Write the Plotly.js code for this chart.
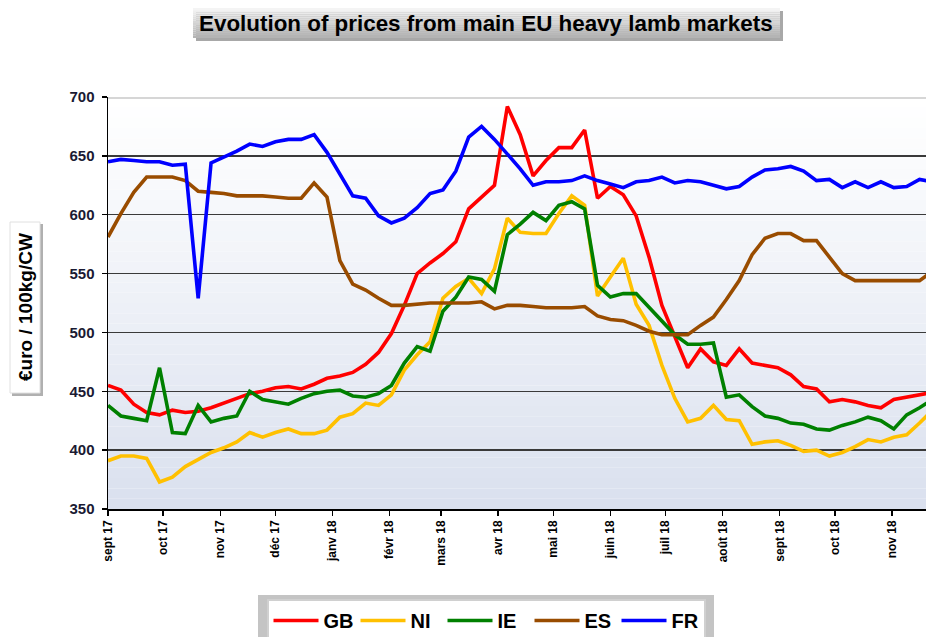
<!DOCTYPE html>
<html><head><meta charset="utf-8">
<script src="https://cdn.plot.ly/plotly-3.0.1.min.js"></script>
<style>html,body{margin:0;padding:0;background:#fff;} #chart{width:926px;height:637px;}</style>
</head><body><div id="chart"></div>
<script>
// ---- DATA (weekly prices, €/100kg CW) ----
const weeks = ['2017-09-01','2017-09-08','2017-09-15','2017-09-22','2017-09-29',
 '2017-10-06','2017-10-13','2017-10-20','2017-10-27',
 '2017-11-03','2017-11-10','2017-11-17','2017-11-24',
 '2017-12-01','2017-12-08','2017-12-15','2017-12-22','2017-12-29',
 '2018-01-05','2018-01-12','2018-01-19','2018-01-26',
 '2018-02-02','2018-02-09','2018-02-16','2018-02-23',
 '2018-03-02','2018-03-09','2018-03-16','2018-03-23','2018-03-30',
 '2018-04-06','2018-04-13','2018-04-20','2018-04-27',
 '2018-05-04','2018-05-11','2018-05-18','2018-05-25',
 '2018-06-01','2018-06-08','2018-06-15','2018-06-22','2018-06-29',
 '2018-07-06','2018-07-13','2018-07-20','2018-07-27',
 '2018-08-03','2018-08-10','2018-08-17','2018-08-24','2018-08-31',
 '2018-09-07','2018-09-14','2018-09-21','2018-09-28',
 '2018-10-05','2018-10-12','2018-10-19','2018-10-26',
 '2018-11-02','2018-11-09','2018-11-16','2018-11-23'];

const GB = [455,451,439,432,430,434,432,433,436,440,444,448,450,453,454,452,456,461,463,466,473,483,
            499,523,550,559,567,577,605,615,625,692,668,633,646,657,657,672,614,624,617,599,564,523,
            497,470,486,475,472,486,474,472,470,464,454,452,441,443,441,438,436,443,445,447,449];
const NI = [391,395,395,393,373,377,386,392,398,402,407,415,411,415,418,414,414,417,428,431,440,438,
            447,468,481,492,529,539,546,533,554,597,585,584,584,601,616,608,531,547,563,524,506,472,
            444,424,427,438,426,425,405,407,408,404,399,400,395,398,403,409,407,411,413,423,434];
const IE = [438,429,427,425,470,415,414,438,424,427,429,450,443,441,439,444,448,450,451,446,445,448,
            455,474,488,484,518,530,547,545,535,583,592,602,595,608,611,605,540,530,533,533,521,509,
            498,490,490,491,445,447,437,429,427,423,422,418,417,421,424,428,425,418,430,436,443];
const ES = [581,601,619,632,632,632,629,620,619,618,616,616,616,615,614,614,627,615,561,541,536,529,
            523,523,524,525,525,525,525,526,520,523,523,522,521,521,521,522,514,511,510,506,501,498,
            498,498,506,513,528,544,566,580,584,584,578,578,564,550,544,544,544,544,544,544,552];
const FR = [645,647,646,645,645,642,643,529,644,649,654,660,658,662,664,664,668,653,635,616,614,599,
            593,597,606,618,621,637,666,675,664,652,639,625,628,628,629,633,629,626,623,628,629,632,
            627,629,628,625,622,624,632,638,639,641,637,629,630,623,628,623,628,623,624,630,628];

const seriesNames  = ['GB','NI','IE','ES','FR'];
const seriesValues = [GB, NI, IE, ES, FR];
const seriesColors = ['#FF0000','#FFC000','#008000','#994C00','#0000FF'];

const monthTicks  = ['2017-09-01','2017-10-01','2017-11-01','2017-12-01','2018-01-01','2018-02-01','2018-03-01',
                     '2018-04-01','2018-05-01','2018-06-01','2018-07-01','2018-08-01','2018-09-01','2018-10-01','2018-11-01'];
const monthLabels = ['sept 17','oct 17','nov 17','déc 17','janv 18','févr 18','mars 18',
                     'avr 18','mai 18','juin 18','juil 18','août 18','sept 18','oct 18','nov 18'];
const yTicks = [350,400,450,500,550,600,650,700];

const chartTitle = 'Evolution of prices from main EU heavy lamb markets';
const yTitle = '€uro / 100kg/CW';

// ---- LAYOUT GEOMETRY ----
const W = 926, H = 637, ML = 108, MR = 0, MT = 97, MB = 128;
const PW = W - ML - MR, PH = H - MT - MB;
const px = x => (x - ML) / PW;
const py = y => (H - MB - y) / PH;
const FONT = 'Liberation Sans, Arial, sans-serif';

const traces = seriesNames.map((n, i) => ({
  type: 'scatter', mode: 'lines', name: n,
  x: weeks, y: seriesValues[i],
  line: {color: seriesColors[i], width: 3.6},
  hoverinfo: 'skip'
}));

const shapes = [];
// plot background gradient (white top -> light blue-grey bottom)
const NS = 40, bgTop = [255,255,255], bgBot = [217,224,238];
for (let i = 0; i < NS; i++) {
  const f = Math.pow((i + 0.5) / NS, 1.1); // fraction from top
  const c = bgTop.map((t, j) => Math.round(t + (bgBot[j] - t) * f));
  shapes.push({type:'rect', xref:'paper', yref:'paper', x0:0, x1:1,
    y0: 1 - (i + 1) / NS, y1: 1 - i / NS, line:{width:0},
    fillcolor:`rgb(${c[0]},${c[1]},${c[2]})`, layer:'below'});
}
// light grey top border line
shapes.push({type:'line', xref:'paper', yref:'y', x0:0, x1:1, y0:700, y1:700,
  line:{color:'#d6d6d6', width:4}, layer:'above'});

// title box: shadow + grey gradient
shapes.push({type:'rect', xref:'paper', yref:'paper', x0:px(196), x1:px(783), y0:py(41), y1:py(11),
  fillcolor:'#a8a8a8', line:{width:0}, layer:'below'});
const TS = 14;
for (let i = 0; i < TS; i++) {
  const f = (i + 0.5) / TS;
  const v = Math.round(246 - (246 - 178) * f);
  const ya = 8 + (30 * i) / TS, yb = 8 + (30 * (i + 1)) / TS;
  shapes.push({type:'rect', xref:'paper', yref:'paper', x0:px(193), x1:px(780), y0:py(yb), y1:py(ya),
    fillcolor:`rgb(${v},${v},${v})`, line:{width:0}, layer:'below'});
}
// y-title box: shadow + white box
shapes.push({type:'rect', xref:'paper', yref:'paper', x0:px(12), x1:px(43), y0:py(396), y1:py(224),
  fillcolor:'#b0b0b0', line:{width:0}, layer:'below'});
shapes.push({type:'rect', xref:'paper', yref:'paper', x0:px(10), x1:px(40), y0:py(393), y1:py(222),
  fillcolor:'#ffffff', line:{color:'#e0e0e0', width:1}, layer:'below'});
// legend shadow
shapes.push({type:'rect', xref:'paper', yref:'paper', x0:px(258), x1:px(714), y0:py(650), y1:py(595),
  fillcolor:'#c4c4c4', line:{width:0}, layer:'below'});

const annotations = [
  {text: chartTitle, xref:'paper', yref:'paper', x: px(486), y: py(23), showarrow:false,
   xanchor:'center', yanchor:'middle', font:{family:FONT, size:22.4, weight:'bold', color:'#000'}},
  {text: yTitle, xref:'paper', yref:'paper', x: px(25), y: py(307), showarrow:false, textangle:-90,
   xanchor:'center', yanchor:'middle', font:{family:FONT, size:19, weight:'bold', color:'#000'}}
];

const layout = {
  width: W, height: H,
  margin: {l: ML, r: MR, t: MT, b: MB, pad: 0, autoexpand: false},
  paper_bgcolor: '#ffffff', plot_bgcolor: 'rgba(0,0,0,0)',
  showlegend: true,
  legend: {orientation:'h', x: px(486), xanchor:'center', y: py(599), yanchor:'top',
    bgcolor:'#ffffff', bordercolor:'#d0d0d0', borderwidth:2, itemwidth:45,
    font:{family:FONT, size:20, weight:'bold', color:'#000'}, entrywidth:27, entrywidthmode:'pixels'},
  xaxis: {type:'date', range:['2017-09-01','2018-11-19 12:00'], tickmode:'array',
    tickvals: monthTicks, ticktext: monthLabels, tickangle:-90,
    ticks:'outside', ticklen:5, tickwidth:1.5, tickcolor:'#000',
    showline:true, linecolor:'#000', linewidth:1.5, showgrid:false, zeroline:false, automargin:false,
    tickfont:{family:FONT, size:12, weight:'bold', color:'#000'}, fixedrange:true},
  yaxis: {range:[350,700], tickmode:'array', tickvals: yTicks,
    ticks:'outside', ticklen:5, tickwidth:1.5, tickcolor:'#000',
    showline:true, linecolor:'#000', linewidth:1.5, automargin:false,
    showgrid:true, gridcolor:'#3a3a3a', gridwidth:1.5, zeroline:false,
    ticklabelstandoff:4,
    tickfont:{family:FONT, size:15, weight:'bold', color:'#1a1a33'}, fixedrange:true},
  shapes, annotations
};

Plotly.newPlot('chart', traces, layout, {staticPlot:true, displayModeBar:false});
</script></body></html>
